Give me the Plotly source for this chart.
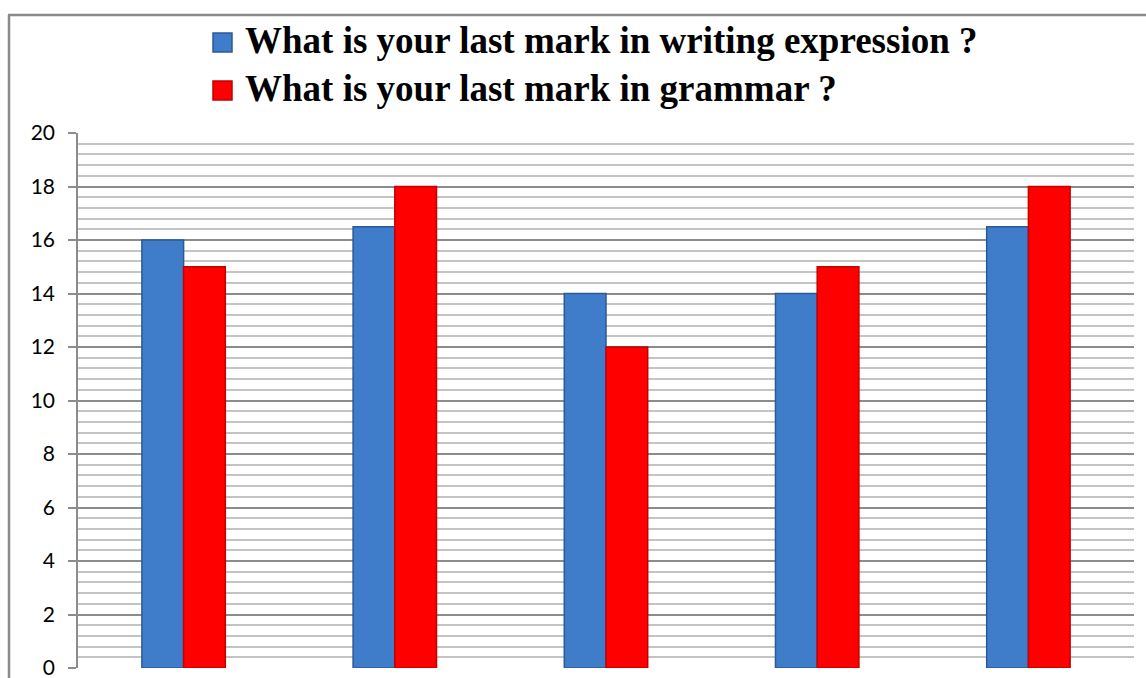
import plotly.graph_objects as go

categories = ["A", "B", "C", "D", "E"]
writing = [16, 16.5, 14, 14, 16.5]
grammar = [15, 18, 12, 15, 18]
series_names = ["What is your last mark in writing expression ?",
                "What is your last mark in grammar ?"]
series_colors = ["#3F7DCB", "#FF0000"]
series_edges = ["#2B5A96", "#C40000"]
y_ticks = [0, 2, 4, 6, 8, 10, 12, 14, 16, 18, 20]

W, H = 1146, 678
ml, mr, mt, mb = 78, 12, 133, 10
pw, ph = W - ml - mr, H - mt - mb


def px_x(p):
    return (p - ml) / pw


def px_y(p):
    return (H - mb - p) / ph


fig = go.Figure()
for name, vals, col, edge in zip(series_names, [writing, grammar], series_colors, series_edges):
    fig.add_trace(go.Bar(x=categories, y=vals, name=name, showlegend=False,
                         marker=dict(color=col, line=dict(color=edge, width=1.5))))

# legend drawn as squares + text
shapes = []
annotations = []
legend_rows = [42.5, 90.5]
for name, col, edge, yc in zip(series_names, series_colors, series_edges, legend_rows):
    shapes.append(dict(type="rect", xref="paper", yref="paper",
                       x0=px_x(213), x1=px_x(232), y0=px_y(yc - 9.5), y1=px_y(yc + 9.5),
                       fillcolor=col, line=dict(color=edge, width=1.5)))
    annotations.append(dict(xref="paper", yref="paper", x=px_x(243), y=px_y(yc - 1.5),
                            xanchor="left", yanchor="middle", showarrow=False,
                            text=name,
                            font=dict(family="Liberation Serif", size=37, color="black",
                                      weight="bold")))

shapes += [
    dict(type="line", xref="paper", yref="paper",
         x0=px_x(8), x1=px_x(W + 5), y0=px_y(15), y1=px_y(15),
         line=dict(color="#8A8A8A", width=2.5)),
    dict(type="line", xref="paper", yref="paper",
         x0=px_x(9), x1=px_x(9), y0=px_y(15), y1=px_y(H + 5),
         line=dict(color="#8A8A8A", width=2.5)),
]

fig.update_layout(
    width=W, height=H,
    margin=dict(l=ml, r=mr, t=mt, b=mb, pad=0, autoexpand=False),
    paper_bgcolor="white", plot_bgcolor="white",
    barmode="group", bargap=0.605, bargroupgap=0,
    showlegend=False,
    xaxis=dict(showticklabels=False, showgrid=False, zeroline=False,
               showline=False, ticks="", automargin=False),
    yaxis=dict(range=[0, 20], tickvals=y_ticks, showgrid=True, automargin=False,
               gridcolor="#8C8C8C", gridwidth=1.5,
               showline=True, linecolor="#8C8C8C", linewidth=1.5,
               ticks="outside", ticklen=8, tickcolor="#8C8C8C", tickwidth=1.5,
               ticklabelstandoff=9, ticklabeloverflow="allow",
               tickfont=dict(family="Lato", size=21, color="black"),
               zeroline=False,
               minor=dict(dtick=0.4, showgrid=True, gridcolor="#C4C4C4", gridwidth=1.5, ticks="")),
    shapes=shapes,
    annotations=annotations,
)

fig.write_html("out.html")
